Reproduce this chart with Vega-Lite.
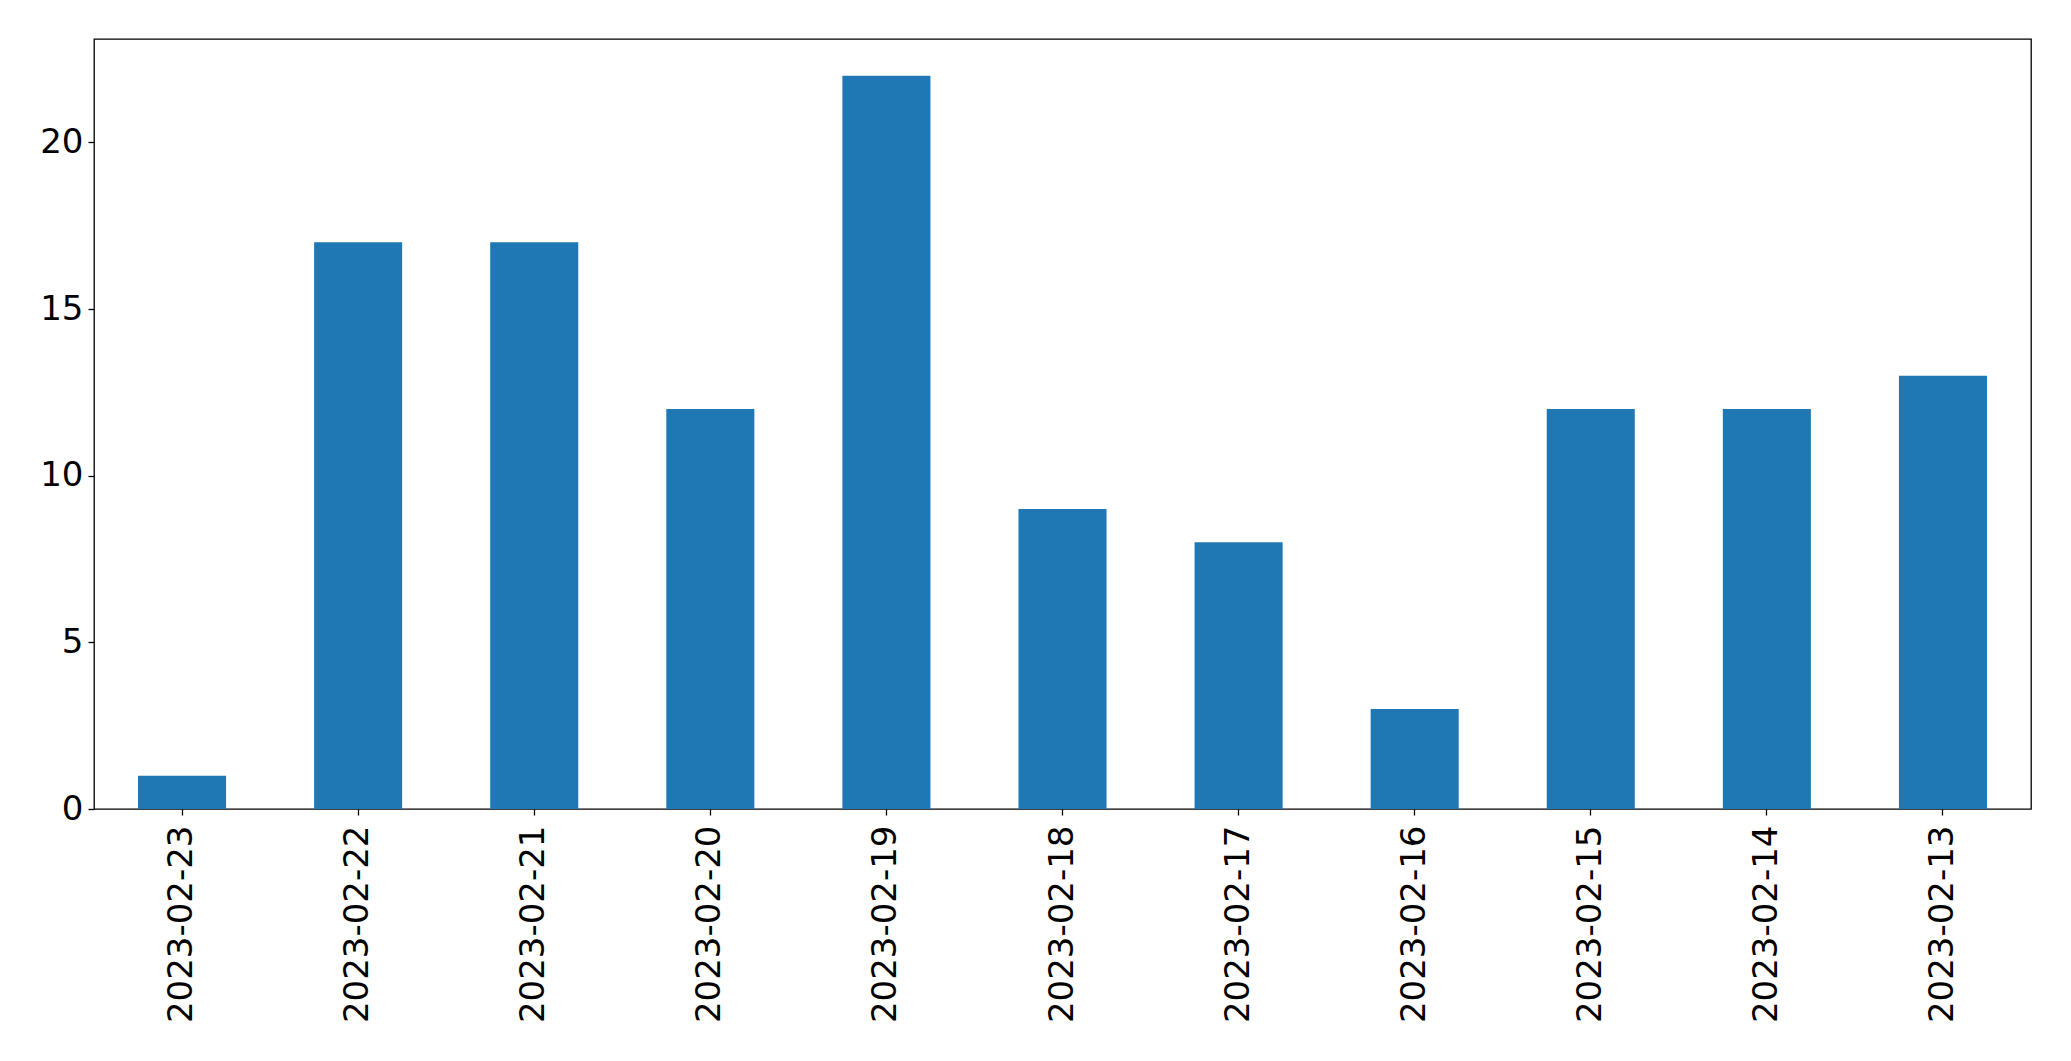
{
  "$schema": "https://vega.github.io/schema/vega-lite/v6.json",
  "width": 1937,
  "height": 770,
  "autosize": {"type": "none"},
  "padding": {"left": 94, "top": 39, "right": 40, "bottom": 252},
  "background": "white",
  "config": {
    "view": {"stroke": "black", "strokeWidth": 1.3},
    "axis": {
      "grid": false,
      "domain": false,
      "tickColor": "black",
      "tickWidth": 1.3,
      "tickSize": 6,
      "labelColor": "black",
      "labelFont": "DejaVu Sans",
      "labelFontSize": 34,
      "labelLimit": 0,
      "title": null
    }
  },
  "data": {
    "values": [
      {"date": "2023-02-23", "count": 1},
      {"date": "2023-02-22", "count": 17},
      {"date": "2023-02-21", "count": 17},
      {"date": "2023-02-20", "count": 12},
      {"date": "2023-02-19", "count": 22},
      {"date": "2023-02-18", "count": 9},
      {"date": "2023-02-17", "count": 8},
      {"date": "2023-02-16", "count": 3},
      {"date": "2023-02-15", "count": 12},
      {"date": "2023-02-14", "count": 12},
      {"date": "2023-02-13", "count": 13}
    ]
  },
  "mark": {"type": "bar", "color": "#1f77b4"},
  "encoding": {
    "x": {
      "field": "date",
      "type": "nominal",
      "sort": null,
      "scale": {"paddingInner": 0.5, "paddingOuter": 0.25},
      "axis": {"labelAngle": -90, "labelPadding": 10}
    },
    "y": {
      "field": "count",
      "type": "quantitative",
      "scale": {"domain": [0, 23.1], "nice": false, "zero": true},
      "axis": {"values": [0, 5, 10, 15, 20], "labelPadding": 5}
    }
  }
}
